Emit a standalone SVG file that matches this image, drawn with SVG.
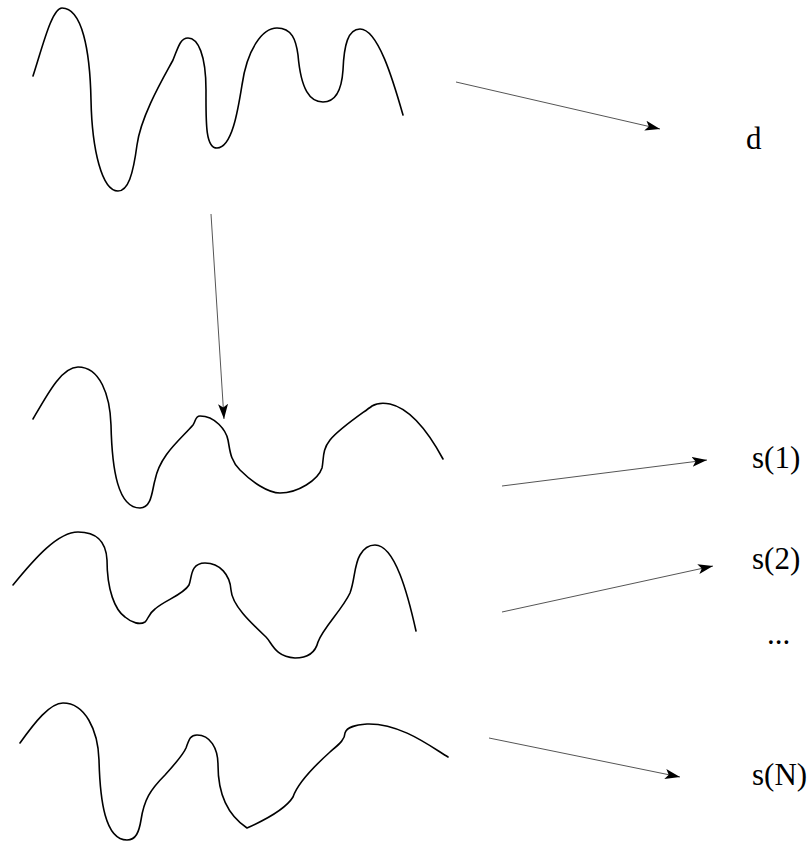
<svg xmlns="http://www.w3.org/2000/svg" width="810" height="842" viewBox="0 0 810 842">
<style>
.curve{fill:none;stroke:#000;stroke-width:1.6;stroke-linejoin:round;stroke-linecap:round}
.arr{fill:none;stroke:#555;stroke-width:1;marker-end:url(#ah)}
.lbl{font-family:"Liberation Serif","Times New Roman",serif;font-size:31px;fill:#000}
</style>
<defs>
<marker id="ah" markerUnits="userSpaceOnUse" markerWidth="17" markerHeight="11" refX="15" refY="5" orient="auto">
<path d="M0,0 L15,5 L0,10 L3.5,5 z" fill="#000"/>
</marker>
</defs>
<rect width="810" height="842" fill="#fff"/>
<g id="signal-d">
<path class="curve" d="M33,76 C43,45 52,8 62,8 C82,8 90,50 91,100 C92,150 102,191 118,191 C128,191 133,175 137,145 C141,115 165,75 173,60 C178,48 180,38 188,38 C198,38 206,55 206,90 C206,120 205,148 217,148 C232,148 238,110 242,85 C247,50 262,28 277,28 C292,28 296,40 298,55 C301,90 310,102 323,102 C338,102 342,85 343,70 C344,45 348,29 360,29 C378,29 393,80 403,115"/>
</g>
<g id="signal-s1">
<path class="curve" d="M33,419 C48,393 62,367 78,367 C100,367 110,395 111,425 C112,470 118,508 140,508 C152,508 152,490 155,480 C160,455 180,440 193,425 C196,421 195,416 200,416 C215,416 226,430 228,440 C230,450 230,460 240,470 C252,482 268,493 280,493 C298,493 318,480 322,468 C324,458 322,450 330,440 C340,428 360,415 372,406 C377,403 385,403 390,404 C412,409 430,435 443,459"/>
</g>
<g id="signal-s2">
<path class="curve" d="M13,585 C35,558 58,532 78,532 C95,532 106,540 107,560 C107,590 115,610 125,617 C132,623 140,625 145,622 C148,620 148,614 155,609 C165,600 183,595 189,585 C192,578 190,563 205,563 C220,563 230,575 231,590 C232,605 250,622 266,637 C272,643 275,657 295,658 C310,658 316,650 318,642 C323,628 342,610 350,593 C355,580 354,565 360,555 C364,548 370,545 375,545 C395,545 408,595 416,631"/>
</g>
<g id="signal-sN">
<path class="curve" d="M20,743 C35,722 50,703 63,703 C85,703 98,730 99,760 C100,800 105,840 127,840 C136,840 139,832 141,820 C144,800 150,790 165,775 C175,764 183,755 186,748 C189,740 190,735 197,735 C210,735 218,748 218,765 C218,800 232,818 247,828 C265,820 285,810 293,797 C297,785 310,770 330,752 C338,745 345,740 345,733 C347,727 355,725 367,724 C400,723 430,746 448,757"/>
</g>
<g id="label-d"><text class="lbl" x="746" y="149">d</text></g>
<g id="label-s1"><text class="lbl" x="752" y="468">s(1)</text></g>
<g id="label-s2"><text class="lbl" x="752" y="569">s(2)</text></g>
<g id="label-dots"><text class="lbl" x="767" y="644">...</text></g>
<g id="label-sN"><text class="lbl" x="752" y="785">s(N)</text></g>
<g id="connectors">
<line class="arr" x1="456" y1="82" x2="660" y2="129"/>
<line class="arr" x1="211" y1="214" x2="224" y2="419"/>
<line class="arr" x1="502" y1="486" x2="707" y2="460"/>
<line class="arr" x1="502" y1="612" x2="713" y2="566"/>
<line class="arr" x1="489" y1="738" x2="680" y2="777"/>
</g>
</svg>
